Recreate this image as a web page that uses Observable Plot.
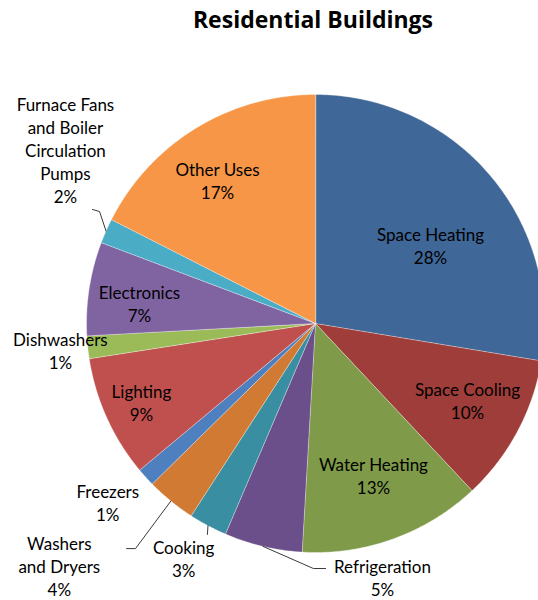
<!DOCTYPE html>
<html><head><meta charset="utf-8">
<script src="https://cdn.jsdelivr.net/npm/d3@7"></script>
<script src="https://cdn.jsdelivr.net/npm/@observablehq/plot@0.6"></script>
<style>
html,body{margin:0;padding:0;background:#fff;overflow:hidden;}
#title{height:48px;width:538px;box-sizing:border-box;padding-left:88px;padding-top:8px;text-align:center;font-family:"Open Sans",Lato,sans-serif;font-weight:bold;font-size:23px;line-height:23px;color:#000;}
#chart svg{display:block;}
</style></head><body>
<div id="title">Residential Buildings</div>
<div id="chart"></div>
<script>
// ---- data, clockwise from 12 o'clock ----
const categories = ["Space Heating","Space Cooling","Water Heating","Refrigeration","Cooking","Washers and Dryers","Freezers","Lighting","Dishwashers","Electronics","Furnace Fans and Boiler Circulation Pumps","Other Uses"];
const shares = [27.6, 10.4, 12.9, 5.5, 2.7, 3.5, 1.3, 8.6, 1.6, 6.6, 1.75, 17.5];
const percentLabels = ["28%","10%","13%","5%","3%","4%","1%","9%","1%","7%","2%","17%"];
const labelLines = ["Space Heating","Space Cooling","Water Heating","Refrigeration","Cooking","Washers\nand Dryers","Freezers","Lighting","Dishwashers","Electronics","Furnace Fans\nand Boiler\nCirculation\nPumps","Other Uses"];
const colors = ["#3F6797","#9E3D3A","#7F9A48","#6A4F8A","#3A8EA1","#D07A34","#4E80C0","#C0504D","#9BBB59","#8064A2","#4BACC6","#F79646"];

// ---- label layout: polar position (degrees clockwise from top, fraction of radius) ----
const labelAngle = [56.4, 117.3, 159.3, 165.3, 209.1, 226.4, 229.0, 245.2, 263.6, 276.0, 304.5, 325.3];
const labelRadius = [0.603, 0.747, 0.716, 1.152, 1.184, 1.545, 1.202, 0.837, 1.121, 0.773, 1.325, 0.752];
// leader line bends (in units of the pie radius), the line starts on the rim at the slice's middle
const leaderBends = {
  "Refrigeration": [[-0.009,-1.070],[0.044,-1.070]],
  "Cooking": [[-0.472,-0.921]],
  "Washers and Dryers": [[-0.786,-0.983],[-0.825,-0.983]],
  "Furnace Fans and Boiler Circulation Pumps": [[-0.943,0.489],[-0.974,0.498]]
};

const W = 538, H = 552, CX = 315, CY = 275, R = 229;
const total = d3.sum(shares);
let acc = 0;
const slices = categories.map((name, i) => {
  const a0 = acc / total * 2 * Math.PI; acc += shares[i];
  const a1 = acc / total * 2 * Math.PI;
  return {name, a0, a1, mid: (a0 + a1) / 2};
});
const polyPoints = slices.flatMap(s => {
  const n = Math.max(2, Math.ceil((s.a1 - s.a0) / (Math.PI / 360)));
  const pts = [{name: s.name, x: 0, y: 0}];
  for (let k = 0; k <= n; k++) {
    const a = s.a0 + (s.a1 - s.a0) * k / n;
    pts.push({name: s.name, x: Math.sin(a), y: Math.cos(a)});
  }
  return pts;
});
const labels = categories.map((name, i) => {
  const a = labelAngle[i] * Math.PI / 180;
  return {name, x: labelRadius[i] * Math.sin(a), y: labelRadius[i] * Math.cos(a), text: labelLines[i] + "\n" + percentLabels[i]};
});
const leaders = slices.filter(s => leaderBends[s.name]).flatMap(s => {
  const pts = [{name: s.name, x: Math.sin(s.mid), y: Math.cos(s.mid)}];
  leaderBends[s.name].forEach(([x, y]) => pts.push({name: s.name, x, y}));
  return pts;
});

const chart = Plot.plot({
  width: W, height: H,
  margin: 0,
  x: {domain: [-1, 1], range: [CX - R, CX + R], axis: null},
  y: {domain: [-1, 1], range: [CY + R, CY - R], axis: null},
  color: {domain: categories, range: colors},
  style: {background: "#fff", overflow: "hidden"},
  marks: [
    Plot.line(polyPoints, {x: "x", y: "y", z: "name", fill: "name", stroke: "#fff", strokeWidth: 0.6, strokeOpacity: 0.6, curve: "linear-closed"}),
    Plot.line(leaders, {x: "x", y: "y", z: "name", stroke: "#3a3a3a", strokeWidth: 1}),
    Plot.text(labels, {x: "x", y: "y", text: "text", fontSize: 17, fontFamily: "Lato, 'Open Sans', sans-serif", fill: "#000", lineHeight: 1.353, lineAnchor: "middle", dy: -2})
  ]
});
document.getElementById("chart").appendChild(chart);
</script>
</body></html>
